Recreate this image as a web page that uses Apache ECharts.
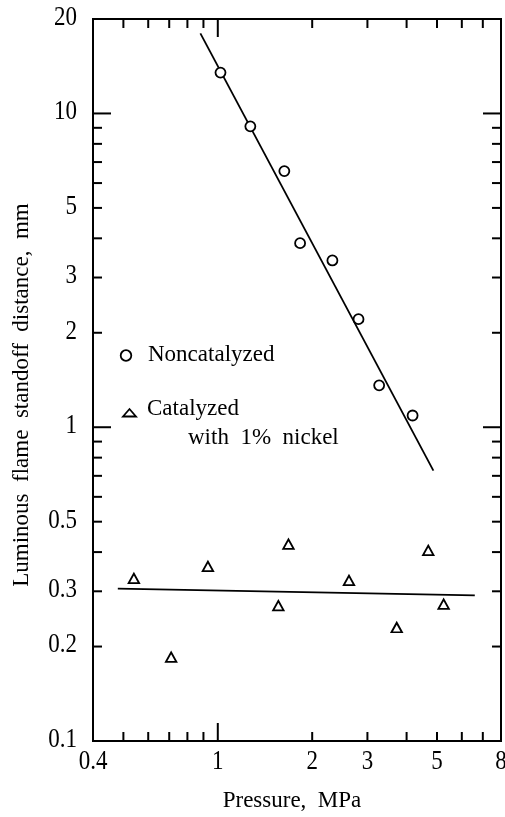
<!DOCTYPE html>
<html><head><meta charset="utf-8">
<script src="https://cdn.jsdelivr.net/npm/echarts@6/dist/echarts.min.js"></script>
<style>html,body{margin:0;padding:0;background:#fff}#c{width:505px;height:817px}</style>
</head><body><div id="c"></div>
<script>
// Noncatalyzed (circles)
const nonCatX = [1.02, 1.27, 1.63, 1.83, 2.32, 2.81, 3.27, 4.18];
const nonCatY = [13.5, 9.1, 6.55, 3.86, 3.4, 2.21, 1.36, 1.09];
// Catalyzed with 1% nickel (triangles)
const catX = [0.54, 0.71, 0.93, 1.56, 1.68, 2.62, 3.72, 4.69, 5.25];
const catY = [0.33, 0.185, 0.36, 0.27, 0.424, 0.325, 0.23, 0.405, 0.273];
// Fit lines
const nonCatFitX = [0.88, 4.87];
const nonCatFitY = [18.0, 0.727];
const catFitX = [0.48, 6.6];
const catFitY = [0.306, 0.291];
// Axes
const X_MIN = 0.4, X_MAX = 8, Y_MIN = 0.1, Y_MAX = 20;
const xTicksMinor = [0.5, 0.6, 0.7, 0.8, 0.9, 2, 3, 4, 5, 6, 7];
const xTicksMajor = [1];
const xTickLabels = [0.4, 1, 2, 3, 5, 8];
const yTicksMinor = [0.2, 0.3, 0.4, 0.5, 0.6, 0.7, 0.8, 0.9, 2, 3, 4, 5, 6, 7, 8, 9];
const yTicksMajor = [1, 10];
const yTickLabels = [0.1, 0.2, 0.3, 0.5, 1, 2, 3, 5, 10, 20];
const xTitle = 'Pressure,  MPa';
const yTitle = 'Luminous  flame  standoff  distance,  mm';
const legendNames = ['Noncatalyzed', 'Catalyzed', 'with  1%  nickel'];

const FONT = '23px "Liberation Serif", "Times New Roman", serif';
const zip = (a, b) => a.map((v, i) => [v, b[i]]);

const chart = echarts.init(document.getElementById('c'), null, {renderer: 'canvas'});

const xTickData = xTicksMinor.map(v => [v, Y_MIN, 0]).concat(xTicksMajor.map(v => [v, Y_MIN, 1]));
const yTickData = yTicksMinor.map(v => [X_MIN, v, 0]).concat(yTicksMajor.map(v => [X_MIN, v, 1]));

function tickLine(x1, y1, x2, y2) {
  return {type: 'line', shape: {x1, y1, x2, y2}, style: {stroke: '#000', lineWidth: 2}};
}

const option = {
  animation: false,
  backgroundColor: '#fff',
  grid: {left: 93, top: 19, width: 408, height: 722, show: true, borderColor: '#000', borderWidth: 2, backgroundColor: 'transparent'},
  xAxis: {type: 'log', logBase: 10, min: X_MIN, max: X_MAX,
    axisLine: {show: false}, axisTick: {show: false}, axisLabel: {show: false}, splitLine: {show: false}},
  yAxis: {type: 'log', logBase: 10, min: Y_MIN, max: Y_MAX,
    axisLine: {show: false}, axisTick: {show: false}, axisLabel: {show: false}, splitLine: {show: false}},
  series: [
    {name: 'Noncatalyzed fit', type: 'line', data: zip(nonCatFitX, nonCatFitY), showSymbol: false, symbol: 'none',
      lineStyle: {color: '#000', width: 1.8}, silent: true, z: 2},
    {name: 'Catalyzed fit', type: 'line', data: zip(catFitX, catFitY), showSymbol: false, symbol: 'none',
      lineStyle: {color: '#000', width: 1.8}, silent: true, z: 2},
    {name: 'Noncatalyzed', type: 'scatter', data: zip(nonCatX, nonCatY), symbol: 'circle', symbolSize: 10,
      itemStyle: {color: '#fff', borderColor: '#000', borderWidth: 1.8, opacity: 1}, z: 3},
    {name: 'Catalyzed with 1% nickel', type: 'scatter', data: zip(catX, catY), symbol: 'triangle', symbolSize: [10.5, 9.5],
      itemStyle: {color: '#fff', borderColor: '#000', borderWidth: 1.8, opacity: 1}, z: 3},
    {type: 'custom', silent: true, z: 4, data: xTickData,
      renderItem: function (params, api) {
        const v = api.value(0), big = api.value(2);
        const len = big ? 18 : 9;
        const pb = api.coord([v, Y_MIN]);
        const pt = api.coord([v, Y_MAX]);
        return {type: 'group', children: [
          tickLine(pb[0], pb[1], pb[0], pb[1] - len),
          tickLine(pt[0], pt[1], pt[0], pt[1] + len)
        ]};
      }},
    {type: 'custom', silent: true, z: 4, data: yTickData,
      renderItem: function (params, api) {
        const v = api.value(1), big = api.value(2);
        const len = big ? 18 : 9;
        const pl = api.coord([X_MIN, v]);
        const pr = api.coord([X_MAX, v]);
        return {type: 'group', children: [
          tickLine(pl[0], pl[1], pl[0] + len, pl[1]),
          tickLine(pr[0], pr[1], pr[0] - len, pr[1])
        ]};
      }},
    {type: 'custom', silent: true, z: 4, data: xTickLabels.map(v => [v, Y_MIN]),
      renderItem: function (params, api) {
        const v = api.value(0);
        const p = api.coord([v, Y_MIN]);
        return {type: 'text', x: p[0], y: p[1] + 21, scaleY: 1.15,
          style: {text: String(v), font: FONT, fill: '#000', align: 'center', verticalAlign: 'middle'}};
      }},
    {type: 'custom', silent: true, z: 4, data: yTickLabels.map(v => [X_MIN, v]),
      renderItem: function (params, api) {
        const v = api.value(1);
        const p = api.coord([X_MIN, v]);
        return {type: 'text', x: p[0] - 16, y: p[1] - 1, scaleY: 1.15,
          style: {text: String(v), font: FONT, fill: '#000', align: 'right', verticalAlign: 'middle'}};
      }}
  ],
  graphic: [
    {type: 'text', x: 292, y: 801, style: {text: xTitle, font: FONT, fill: '#000', align: 'center', verticalAlign: 'middle'}},
    {type: 'text', x: 22, y: 395, rotation: Math.PI / 2, style: {text: yTitle, font: FONT, fill: '#000', align: 'center', verticalAlign: 'middle'}},
    {type: 'circle', shape: {cx: 126, cy: 355.5, r: 5.3}, style: {fill: '#fff', stroke: '#000', lineWidth: 1.8}},
    {type: 'text', x: 148, y: 355, style: {text: legendNames[0], font: FONT, fill: '#000', align: 'left', verticalAlign: 'middle'}},
    {type: 'polygon', shape: {points: [[123, 416.5], [136, 416.5], [129.5, 409]]}, style: {fill: '#fff', stroke: '#000', lineWidth: 1.8}},
    {type: 'text', x: 147, y: 409, style: {text: legendNames[1], font: FONT, fill: '#000', align: 'left', verticalAlign: 'middle'}},
    {type: 'text', x: 188, y: 438, style: {text: legendNames[2], font: FONT, fill: '#000', align: 'left', verticalAlign: 'middle'}}
  ]
};
chart.setOption(option);
</script>
</body></html>
